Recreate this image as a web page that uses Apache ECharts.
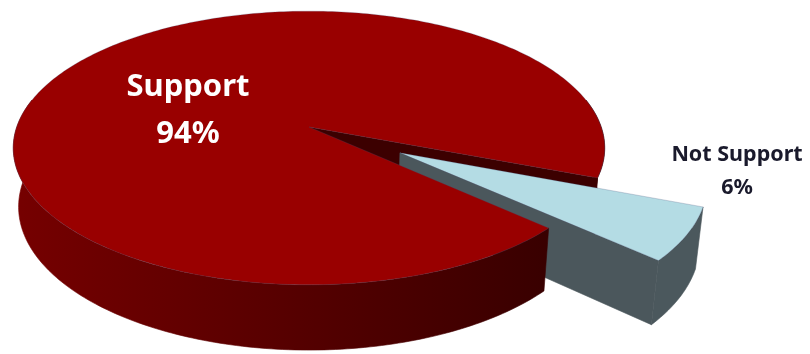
<!DOCTYPE html>
<html>
<head>
<meta charset="utf-8">
<script src="https://cdn.jsdelivr.net/npm/echarts@6/dist/echarts.min.js"></script>
<style>
  html, body { margin: 0; padding: 0; background: #ffffff; }
  #chart { width: 810px; height: 354px; }
</style>
</head>
<body>
<div id="chart"></div>
<script>
// Survey result shares (percent)
const categories = ['Support', 'Not Support'];
const shares = [94, 6];
const explode = [0, 0.356];          // pull-out distance, in pie radii

// Colours
const topColors = ['#990000', '#b4dce4'];
const faceColors = ['#3c0000', '#4b575c'];
const labelColors = ['#ffffff', '#1a1a2c'];

// 3D view: camera tilt, camera distance and disc thickness (pie radius = 1)
const TILT = 27.2 * Math.PI / 180;
const DIST = 5.80;
const THICK = 0.228;
const START_ANGLE = 42.7;            // degrees, clockwise from 3 o'clock, seen from above
const SIN = Math.sin(TILT), COS = Math.cos(TILT);

// view-plane extents shown by the (hidden) axes
const VIEW_X = [-0.1823, 0.2956];
const VIEW_Y = [-0.0749, 0.1339];

// Project a point on the disc (X right, Y up, Z toward viewer) to the view plane
function project(X, Y, Z) {
  const depth = DIST - SIN * Y - COS * Z;
  return [X / depth, (SIN * Z - COS * Y) / depth];
}

const total = shares.reduce((a, b) => a + b, 0);
const rad = d => d * Math.PI / 180;

// drawing layers: back faces of the big slice, the pulled-out slice, front of the big slice
const LAYER_BACK = 1, LAYER_PULLED = 2, LAYER_FRONT = 3;

function renderItem(params, api) {
  const i = params.dataIndex;
  let before = 0;
  for (let j = 0; j < i; j++) before += shares[j];
  const a0 = START_ANGLE + 360 * before / total;
  const a1 = a0 + 360 * api.value(1) / total;
  const mid = rad((a0 + a1) / 2);
  const ox = explode[i] * Math.cos(mid);
  const oz = explode[i] * Math.sin(mid);
  const pulled = explode[i] > 0;

  const pt = (deg, r, bottom) => {
    const t = rad(deg);
    return api.coord(project(ox + r * Math.cos(t), bottom ? -THICK : 0, oz + r * Math.sin(t)));
  };
  const arc = (from, to, bottom) => {
    const n = Math.max(2, Math.ceil(Math.abs(to - from)));
    const out = [];
    for (let k = 0; k <= n; k++) out.push(pt(from + (to - from) * k / n, 1, bottom));
    return out;
  };

  const children = [];

  // outer wall, only where it faces the viewer
  const sideFill = i === 0
    ? new echarts.graphic.LinearGradient(12, 0, 604, 0, [
        { offset: 0, color: '#760000' },
        { offset: 0.5, color: '#540000' },
        { offset: 0.9, color: '#390000' },
        { offset: 1, color: '#320000' }
      ], true)
    : '#4b585d';
  for (let k = -1; k <= 1; k++) {
    const lo = Math.max(a0, -12 + 360 * k);
    const hi = Math.min(a1, 192 + 360 * k);
    if (hi > lo) {
      const pts = arc(lo, hi, false).concat(arc(hi, lo, true));
      // wall pieces right of the pulled-out slice sit behind it
      const behind = !pulled && Math.cos(rad((lo + hi) / 2)) > 0.5;
      children.push({
        type: 'polygon',
        z2: pulled ? LAYER_PULLED : (behind ? LAYER_BACK : LAYER_FRONT),
        shape: { points: pts },
        style: { fill: sideFill, stroke: sideFill, lineWidth: 0.6 }
      });
    }
  }

  // cut faces along the slice edges
  const faces = [
    { ang: a0, sign: -1 },
    { ang: a1, sign: 1 }
  ];
  faces.forEach(f => {
    const t = rad(f.ang);
    const nx = -f.sign * Math.sin(t), nz = f.sign * Math.cos(t);
    const facing = DIST * COS * nz - (ox * nx + oz * nz);
    if (facing > 0) {
      children.push({
        type: 'polygon',
        z2: pulled ? LAYER_PULLED : LAYER_BACK,
        shape: { points: [pt(f.ang, 0, false), pt(f.ang, 1, false), pt(f.ang, 1, true), pt(f.ang, 0, true)] },
        style: { fill: faceColors[i], stroke: faceColors[i], lineWidth: 0.6 }
      });
    }
  });

  // top face
  children.push({
    type: 'polygon',
    z2: pulled ? LAYER_PULLED + 0.5 : LAYER_FRONT + 0.5,
    shape: { points: [pt(a0, 0, false)].concat(arc(a0, a1, false)) },
    style: { fill: topColors[i], stroke: 'rgba(70,80,120,0.35)', lineWidth: 0.7 }
  });

  return { type: 'group', children: children };
}

// label text drawn next to each slice
const labelLayout = [
  { x: 188, y: 110.5, size: 31, lh: 47 },
  { x: 737, y: 171, size: 21.5, lh: 33 }
];

const chart = echarts.init(document.getElementById('chart'), null, { renderer: 'canvas' });
chart.setOption({
  backgroundColor: '#ffffff',
  animation: false,
  grid: { left: 0, right: 0, top: 0, bottom: 0 },
  xAxis: { type: 'value', min: VIEW_X[0], max: VIEW_X[1], show: false },
  yAxis: { type: 'value', min: VIEW_Y[0], max: VIEW_Y[1], inverse: true, show: false },
  series: [
    {
      type: 'custom',
      coordinateSystem: 'cartesian2d',
      renderItem: renderItem,
      data: shares.map((v, i) => [i, v]),
      silent: true,
      clip: false
    }
  ],
  graphic: categories.map((name, i) => ({
    type: 'text',
    x: labelLayout[i].x,
    y: labelLayout[i].y,
    z: 100,
    style: {
      text: name + '\n' + shares[i] + '%',
      fill: labelColors[i],
      font: 'bold ' + labelLayout[i].size + 'px "Noto Sans"',
      lineHeight: labelLayout[i].lh,
      align: 'center',
      verticalAlign: 'middle'
    }
  }))
});
</script>
</body>
</html>
